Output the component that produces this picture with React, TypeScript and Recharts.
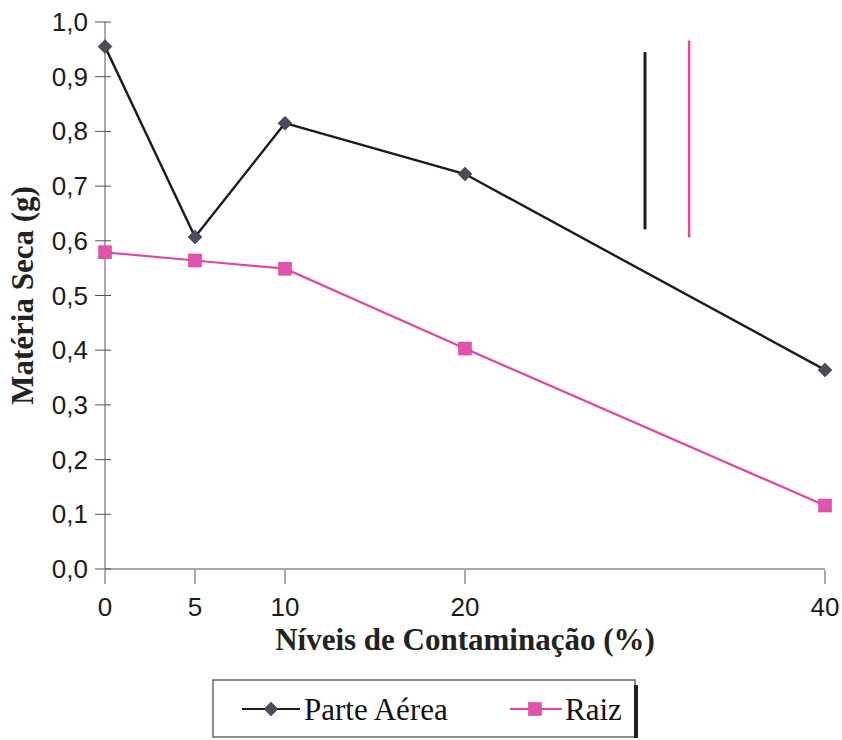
import { LineChart, Line, XAxis, YAxis, ReferenceLine, Legend } from "recharts"

const niveis = [0, 5, 10, 20, 40]
const parteAerea = [0.955, 0.607, 0.815, 0.722, 0.364]
const raiz = [0.579, 0.564, 0.549, 0.403, 0.116]
const xTicks = [0, 5, 10, 20, 40]
const yTicks = [0, 0.1, 0.2, 0.3, 0.4, 0.5, 0.6, 0.7, 0.8, 0.9, 1.0]
// barras verticais (DMS) de cada série
const dmsParte = { x: 30, y1: 0.621, y2: 0.945 }
const dmsRaiz = { x: 32.45, y1: 0.606, y2: 0.966 }

const data = niveis.map((n, i) => ({ nivel: n, parte: parteAerea[i], raiz: raiz[i] }))

const BLACK = "#1c1c1c"
const PINK = "#e2479f"
const DIAMOND = "#4b4b5c"
const SQUARE = "#e054ad"
const AXIS = "#555"
const SERIF = "Liberation Serif, Times New Roman, serif"
const SANS = "Liberation Sans, Arial, sans-serif"

const fmt = (v: number) => v.toFixed(1).replace(".", ",")

function Diamond(props: any) {
  const { cx, cy } = props
  if (cx == null || cy == null) return null
  const r = 7
  return (
    <polygon
      points={`${cx},${cy - r} ${cx + r},${cy} ${cx},${cy + r} ${cx - r},${cy}`}
      fill={DIAMOND}
      stroke="#333"
      strokeWidth={0.5}
    />
  )
}

function Square(props: any) {
  const { cx, cy } = props
  if (cx == null || cy == null) return null
  const s = 6.5
  return <rect x={cx - s} y={cy - s} width={s * 2} height={s * 2} fill={SQUARE} stroke="#c8398f" strokeWidth={0.5} />
}

function YTick(props: any) {
  const { x, y, payload } = props
  return (
    <g>
      <line x1={x - 2} y1={y} x2={x + 14} y2={y} stroke={AXIS} strokeWidth={1} />
      <text x={x - 9} y={y} textAnchor="end" dominantBaseline="central" fontSize={26} fill="#1a1a1a" fontFamily={SANS}>
        {fmt(payload.value)}
      </text>
    </g>
  )
}

function XTick(props: any) {
  const { x, y, payload } = props
  return (
    <g>
      <line x1={x} y1={y - 7} x2={x} y2={y + 7} stroke={AXIS} strokeWidth={1} />
      <text x={x} y={y + 39} textAnchor="middle" fontSize={26} fill="#1a1a1a" fontFamily={SANS}>
        {payload.value}
      </text>
    </g>
  )
}

function LegendBox() {
  return (
    <svg width={430} height={62}>
      <rect x={1} y={1} width={422} height={57} fill="#fff" stroke="#444" strokeWidth={1.2} />
      <line x1={424} y1={6} x2={424} y2={59} stroke="#222" strokeWidth={4} />
      <line x1={30} y1={30} x2={88} y2={30} stroke={BLACK} strokeWidth={2} />
      <Diamond cx={59} cy={30} />
      <text x={92} y={41} fontSize={31} fontFamily={SERIF} fill="#111">Parte Aérea</text>
      <line x1={298} y1={30} x2={350} y2={30} stroke={PINK} strokeWidth={2} />
      <Square cx={323} cy={30} />
      <text x={353} y={41} fontSize={31} fontFamily={SERIF} fill="#111">Raiz</text>
    </svg>
  )
}

export default function App() {
  return (
    <div style={{ position: "absolute", left: 0, top: 0, background: "#fff" }}>
      <LineChart width={842} height={740} data={data} margin={{ top: 22, right: 17, bottom: 101, left: 0 }}>
        <XAxis
          dataKey="nivel"
          type="number"
          domain={[0, 40]}
          ticks={xTicks}
          tick={<XTick />}
          tickLine={false}
          axisLine={{ stroke: AXIS, strokeWidth: 1 }}
          height={70}
          label={{
            value: "Níveis de Contaminação (%)",
            position: "insideBottom",
            offset: -11,
            style: { fontSize: 31, fontWeight: "bold", fontFamily: SERIF, fill: "#222" },
          }}
        />
        <YAxis
          type="number"
          domain={[0, 1]}
          ticks={yTicks}
          tick={<YTick />}
          tickLine={false}
          axisLine={{ stroke: AXIS, strokeWidth: 1 }}
          width={105}
          interval={0}
          label={{
            value: "Matéria Seca (g)",
            angle: -90,
            position: "insideLeft",
            offset: 22,
            style: { textAnchor: "middle", fontSize: 31, fontWeight: "bold", fontFamily: SERIF, fill: "#222" },
          }}
        />
        <ReferenceLine
          segment={[{ x: dmsParte.x, y: dmsParte.y1 }, { x: dmsParte.x, y: dmsParte.y2 }]}
          stroke={BLACK}
          strokeWidth={3}
        />
        <ReferenceLine
          segment={[{ x: dmsRaiz.x, y: dmsRaiz.y1 }, { x: dmsRaiz.x, y: dmsRaiz.y2 }]}
          stroke={PINK}
          strokeWidth={2.5}
        />
        <Line
          type="linear"
          dataKey="parte"
          name="Parte Aérea"
          stroke={BLACK}
          strokeWidth={2.4}
          dot={<Diamond />}
          activeDot={false}
          isAnimationActive={false}
        />
        <Line
          type="linear"
          dataKey="raiz"
          name="Raiz"
          stroke={PINK}
          strokeWidth={2.2}
          dot={<Square />}
          activeDot={false}
          isAnimationActive={false}
        />
        <Legend
          layout="horizontal"
          verticalAlign="middle"
          align="center"
          content={<LegendBox />}
          wrapperStyle={{ left: 212, top: 679, width: 430, height: 62 }}
        />
      </LineChart>
    </div>
  )
}
